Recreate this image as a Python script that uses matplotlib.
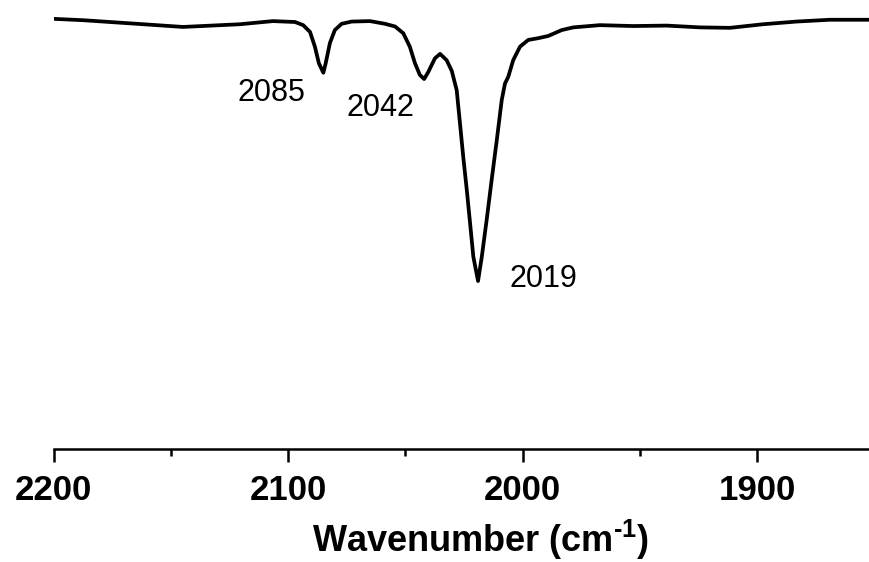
import matplotlib
matplotlib.use("Agg")
import matplotlib.pyplot as plt

plt.rcParams['font.family'] = ['Liberation Sans', 'DejaVu Sans']
plt.rcParams['mathtext.fontset'] = 'custom'
plt.rcParams['mathtext.rm'] = 'Liberation Sans:bold'
plt.rcParams['mathtext.bf'] = 'Liberation Sans:bold'
plt.rcParams['mathtext.default'] = 'bf'

# FTIR spectrum, carbonyl region
wavenumber = [2200.0, 2187.5, 2167.5, 2144.9, 2120.6, 2106.5, 2097.1, 2093.6,
              2090.7, 2088.6, 2086.9, 2085.0, 2084.0, 2082.2, 2080.1, 2077.2,
              2072.9, 2065.1, 2058.7, 2054.4, 2050.9, 2048.1, 2045.9, 2043.8,
              2042.0, 2040.2, 2037.4, 2035.2, 2032.4, 2030.2, 2028.1, 2026.7,
              2025.3, 2023.8, 2022.4, 2021.0, 2019.0, 2017.4, 2015.3, 2013.2,
              2011.0, 2008.9, 2007.5, 2006.1, 2004.0, 2001.1, 1997.6, 1993.3,
              1989.0, 1983.3, 1978.4, 1967.0, 1952.9, 1938.5, 1924.3, 1911.5,
              1897.4, 1883.1, 1868.9, 1852.2]
transmittance = [95.8, 95.5, 94.8, 94.0, 94.6, 95.3, 95.1, 94.4,
                 92.9, 89.6, 85.9, 83.8, 85.9, 90.4, 93.3, 94.7,
                 95.2, 95.3, 94.7, 94.1, 92.6, 89.6, 85.9, 83.3,
                 82.4, 84.0, 87.0, 88.0, 86.6, 84.2, 79.9, 72.5,
                 65.0, 57.7, 50.3, 42.8, 37.4, 42.8, 51.1, 59.9,
                 68.8, 77.7, 81.4, 82.9, 86.6, 89.6, 91.1, 91.5,
                 92.0, 93.3, 93.9, 94.4, 94.2, 94.3, 93.9, 93.8,
                 94.6, 95.2, 95.6, 95.6]

# peak labels: text, x and y of the label centre
peak_labels = ['2085', '2042', '2019']
label_x = [2107.3, 2060.8, 1990.9]
label_y = [79.3, 75.9, 37.9]

fig = plt.figure(figsize=(8.69, 5.62), dpi=100)
ax = fig.add_axes([0.0619, 0.2011, 0.9381, 0.7989])

ax.plot(wavenumber, transmittance, color='black', linewidth=2.7,
        solid_joinstyle='round', solid_capstyle='round')

for txt, x, y in zip(peak_labels, label_x, label_y):
    ax.text(x, y, txt, fontsize=22, ha='center', va='center')

ax.set_xlim(2200, 1852.2)
ax.set_ylim(0, 100)
ax.set_xticks([2200, 2100, 2000, 1900])
ax.set_xticks([2150, 2050, 1950], minor=True)
ax.tick_params(axis='x', which='major', direction='out', length=9, width=1.8,
               pad=9, labelsize=25)
ax.tick_params(axis='x', which='minor', direction='out', length=5, width=1.8)
for lab in ax.get_xticklabels():
    lab.set_fontweight('bold')
ax.set_yticks([])
for side in ['left', 'right', 'top']:
    ax.spines[side].set_visible(False)
ax.spines['bottom'].set_linewidth(1.8)
ax.set_xlabel(r'Wavenumber (cm$^{\text{-1}}$)', fontsize=26, fontweight='bold',
              labelpad=8, x=0.524)

fig.savefig('out.png', dpi=100)
